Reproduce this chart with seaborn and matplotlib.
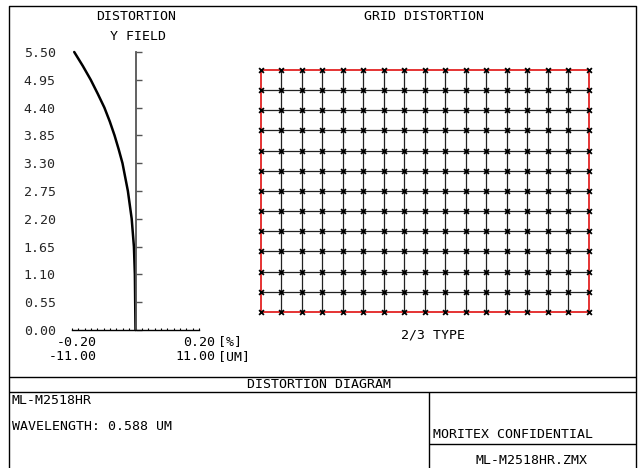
import matplotlib
matplotlib.use("Agg")
import matplotlib.pyplot as plt
import seaborn as sns
import pandas as pd

# ---------------- data ----------------
field_y = [0.00, 0.55, 1.10, 1.65, 2.20, 2.75, 3.30, 3.575, 3.85, 4.125, 4.40, 4.675, 4.95, 5.225, 5.50]
distortion_pct = [0.000, -0.001, -0.002, -0.005, -0.012, -0.024, -0.041, -0.053, -0.066,
                  -0.081, -0.098, -0.119, -0.141, -0.166, -0.193]
ytick_values = [0.00, 0.55, 1.10, 1.65, 2.20, 2.75, 3.30, 3.85, 4.40, 4.95, 5.50]
ytick_labels = ["0.00", "0.55", "1.10", "1.65", "2.20", "2.75", "3.30", "3.85", "4.40", "4.95", "5.50"]
x_limits_pct = [-0.20, 0.20]
x_labels_pct = ["-0.20", "0.20"]
x_labels_um = ["-11.00", "11.00"]
x_minor_ticks = [-0.20, -0.18, -0.16, -0.14, -0.12, -0.10, -0.08, -0.06, -0.04, -0.02, 0.00,
                 0.02, 0.04, 0.06, 0.08, 0.10, 0.12, 0.14, 0.16, 0.18, 0.20]
grid_cols = [-8, -7, -6, -5, -4, -3, -2, -1, 0, 1, 2, 3, 4, 5, 6, 7, 8]
grid_rows = [-6, -5, -4, -3, -2, -1, 0, 1, 2, 3, 4, 5, 6]

# ---------------- setup ----------------
sns.set_theme(style="white")
plt.rcParams['font.family'] = ['DejaVu Sans Mono']
FS = 9.5
W, H = 638, 468
fig = plt.figure(figsize=(W / 100, H / 100), dpi=100)


def px_axes(x0, y0, x1, y1):
    return fig.add_axes([x0 / W, 1 - y1 / H, (x1 - x0) / W, (y1 - y0) / H])


frame = fig.add_axes([0, 0, 1, 1])
frame.set_xlim(0, W)
frame.set_ylim(H, 0)
frame.axis('off')

# frame / title-block lines
L, R, T, B = 8.5, 635.5, 5.5, 470
lk = dict(color='black', lw=1.0, solid_capstyle='butt')
frame.plot([L, R, R, L, L], [B, B, T, T, B], **lk)
frame.plot([L, R], [376.5, 376.5], **lk)
frame.plot([L, R], [391.5, 391.5], **lk)
frame.plot([428.5, 428.5], [391.5, B], **lk)
frame.plot([428.5, R], [443.5, 443.5], **lk)

tk = dict(fontsize=FS, color='black', va='center')
frame.text(136, 17, "DISTORTION", ha='center', **tk)
frame.text(138, 37, "Y FIELD", ha='center', **tk)
frame.text(424, 17, "GRID DISTORTION", ha='center', **tk)
frame.text(433, 335, "2/3 TYPE", ha='center', **tk)
frame.text(97, 342, x_labels_pct[0], ha='right', **tk)
frame.text(97, 357, x_labels_um[0], ha='right', **tk)
frame.text(215, 342, x_labels_pct[1], ha='right', **tk)
frame.text(218, 342, "[%]", ha='left', **tk)
frame.text(215, 357, x_labels_um[1], ha='right', **tk)
frame.text(218, 357, "[UM]", ha='left', **tk)
frame.text(319, 384, "DISTORTION DIAGRAM", ha='center', **tk)
frame.text(12, 401, "ML-M2518HR", ha='left', **tk)
frame.text(12, 426, "WAVELENGTH: 0.588 UM", ha='left', **tk)
frame.text(433, 434, "MORITEX CONFIDENTIAL", ha='left', **tk)
frame.text(532, 460, "ML-M2518HR.ZMX", ha='center', **tk)

# ---------------- distortion plot ----------------
ax1 = px_axes(72, 52, 199, 330)
ax1.set_facecolor('none')
sns.lineplot(x=distortion_pct, y=field_y, sort=False, estimator=None,
             color='black', lw=1.8, ax=ax1)
ax1.set_xlim(*x_limits_pct)
ax1.set_ylim(0, 5.5)
for s in ['top', 'right']:
    ax1.spines[s].set_visible(False)
ax1.spines['left'].set_position(('data', 0))
ax1.spines['left'].set_color('#555555')
ax1.spines['left'].set_linewidth(1.3)
ax1.spines['bottom'].set_color('black')
ax1.spines['bottom'].set_linewidth(1.0)
ax1.set_yticks(ytick_values)
ax1.set_yticklabels(ytick_labels, fontsize=FS)
ax1.tick_params(axis='y', direction='in', length=4.5, width=1.0, color='#555555',
                pad=57.5, left=True, labelleft=True)
ax1.set_xticks([])
ax1.set_xticks(x_minor_ticks, minor=True)
ax1.tick_params(axis='x', which='minor', direction='in', length=1.6, width=0.8,
                color='black', bottom=True)
ax1.set_xlabel('')
ax1.set_ylabel('')
for ln in ax1.lines:
    ln.set_clip_on(False)

# ---------------- grid distortion ----------------
ax2 = px_axes(260.5, 70, 589, 312)
ax2.set_facecolor('none')
rows = []
for i, gx in enumerate(grid_cols):
    for gy in grid_rows:
        rows.append(dict(line=f"v{i}", x=gx, y=gy,
                         edge=gx in (grid_cols[0], grid_cols[-1])))
for j, gy in enumerate(grid_rows):
    for gx in grid_cols:
        rows.append(dict(line=f"h{j}", x=gx, y=gy,
                         edge=gy in (grid_rows[0], grid_rows[-1])))
gdf = pd.DataFrame(rows)
sns.lineplot(data=gdf[~gdf.edge], x='x', y='y', units='line', estimator=None,
             sort=False, color='#222222', lw=0.9, ax=ax2)
sns.lineplot(data=gdf[gdf.edge], x='x', y='y', units='line', estimator=None,
             sort=False, color='#e01010', lw=1.2, ax=ax2)
pts = pd.DataFrame([(gx, gy) for gx in grid_cols for gy in grid_rows], columns=['x', 'y'])
sns.scatterplot(data=pts, x='x', y='y', marker='x', color='black', s=12,
                linewidth=1.3, ax=ax2, zorder=5)
ax2.set_xlim(grid_cols[0], grid_cols[-1])
ax2.set_ylim(grid_rows[0], grid_rows[-1])
ax2.axis('off')
for a in ax2.lines + ax2.collections:
    a.set_clip_on(False)

fig.savefig("out.png", dpi=100)
